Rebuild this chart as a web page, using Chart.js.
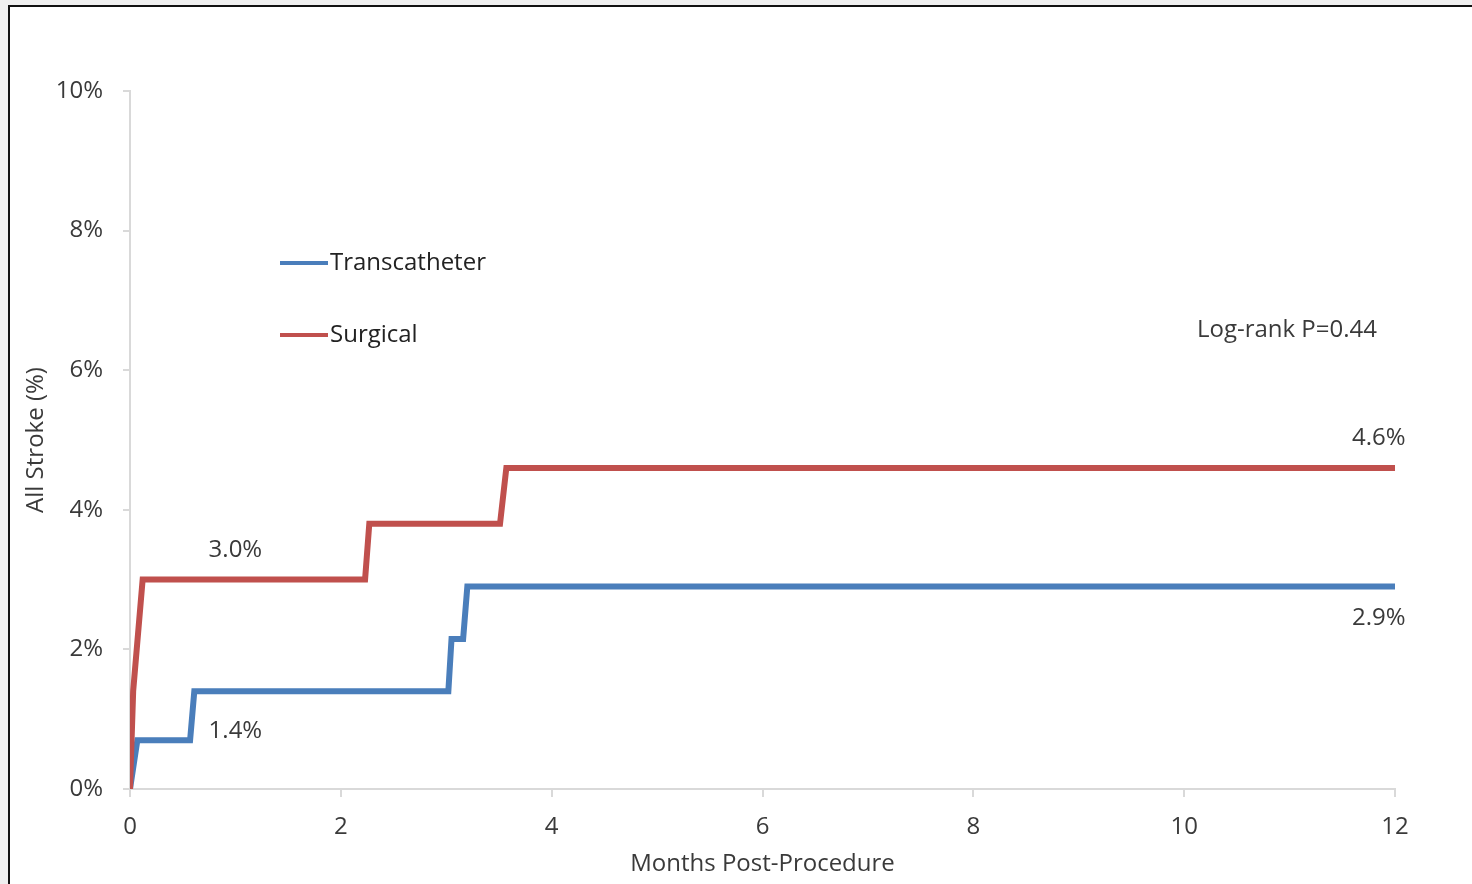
<!DOCTYPE html>
<html lang="en">
<head>
    <meta charset="UTF-8">
    <title>All Stroke</title>
    <script src="https://cdn.jsdelivr.net/npm/chart.js@4.4.1/dist/chart.umd.min.js"></script>
    <style>
        html, body {
            margin: 0;
            padding: 0;
            background: #efefef;
        }
        .frame {
            position: absolute;
            left: 8px;
            top: 5px;
            width: 1464px;
            height: 879px;
            background: #fff;
            border-left: 2px solid #111;
            border-top: 2px solid #111;
            box-sizing: border-box;
        }
        .chart-box {
            position: absolute;
            left: 0;
            top: 0;
            width: 1472px;
            height: 884px;
        }
    </style>
</head>
<body>
    <div class="frame"></div>
    <div class="chart-box">
        <canvas id="strokeChart" width="1472" height="884"></canvas>
    </div>

    <script>
        // Kaplan-Meier steps, months vs cumulative stroke (%)
        const tavrMonths = [0, 0.07, 0.57, 0.61, 3.02, 3.05, 3.16, 3.20, 12];
        const tavrStroke = [0, 0.7, 0.7, 1.4, 1.4, 2.15, 2.15, 2.9, 2.9];

        const savrMonths = [0, 0.03, 0.12, 2.23, 2.27, 3.51, 3.57, 12];
        const savrStroke = [0, 1.4, 3.0, 3.0, 3.8, 3.8, 4.6, 4.6];

        const seriesNames = ['Transcatheter', 'Surgical'];
        const monthTicks = [0, 2, 4, 6, 8, 10, 12];
        const pctTicks = [0, 2, 4, 6, 8, 10];
        const pValueText = 'Log-rank P=0.44';

        const blue = '#4a7ebb';
        const red = '#c0504d';
        const textColor = '#3a3a3a';
        const axisColor = '#d9d9d9';
        const fontFamily = '"Open Sans", Lato, sans-serif';
        const fontSize = 24;

        const toPoints = (xs, ys) => xs.map((x, i) => ({ x: x, y: ys[i] }));

        // value callouts: which point to read, where to put the text
        const callouts = [
            { ds: 1, idx: 2, atMonth: 1.0, dy: -29, align: 'center' },
            { ds: 0, idx: 3, atMonth: 1.0, dy: 40, align: 'center' },
            { ds: 1, idx: 7, atMonth: 12.1, dy: -30, align: 'right' },
            { ds: 0, idx: 8, atMonth: 12.1, dy: 32, align: 'right' }
        ];

        const overlayPlugin = {
            id: 'overlay',
            afterDatasetsDraw(chart) {
                const ctx = chart.ctx;
                const xs = chart.scales.x;
                const ys = chart.scales.y;
                const area = chart.chartArea;
                ctx.save();
                ctx.textBaseline = 'middle';

                // value labels
                ctx.font = fontSize + 'px ' + fontFamily;
                ctx.fillStyle = textColor;
                callouts.forEach(c => {
                    const v = chart.data.datasets[c.ds].data[c.idx].y;
                    ctx.textAlign = c.align;
                    ctx.fillText(v.toFixed(1) + '%', xs.getPixelForValue(c.atMonth), ys.getPixelForValue(v) + c.dy);
                });

                // log-rank note
                ctx.textAlign = 'right';
                ctx.fillText(pValueText, area.right - 18, area.top + 239);

                // legend, stacked top-left inside the plot
                ctx.textAlign = 'left';
                ctx.fillStyle = '#222';
                chart.data.datasets.forEach((ds, i) => {
                    const y = area.top + 172 + i * 72;
                    const x0 = area.left + 150;
                    ctx.strokeStyle = ds.borderColor;
                    ctx.lineWidth = 4;
                    ctx.beginPath();
                    ctx.moveTo(x0, y);
                    ctx.lineTo(x0 + 48, y);
                    ctx.stroke();
                    ctx.fillText(ds.label, x0 + 50, y);
                });
                ctx.restore();
            }
        };

        const ctx = document.getElementById('strokeChart').getContext('2d');
        const strokeChart = new Chart(ctx, {
            type: 'line',
            data: {
                datasets: [{
                    label: seriesNames[0],
                    data: toPoints(tavrMonths, tavrStroke),
                    borderColor: blue,
                    borderWidth: 6,
                    order: 1
                }, {
                    label: seriesNames[1],
                    data: toPoints(savrMonths, savrStroke),
                    borderColor: red,
                    borderWidth: 6,
                    order: 0
                }]
            },
            options: {
                responsive: false,
                animation: false,
                layout: {
                    padding: { top: 91, right: 77, bottom: 0, left: 0 }
                },
                elements: {
                    point: { radius: 0 },
                    line: { tension: 0, borderJoinStyle: 'miter', borderCapStyle: 'butt' }
                },
                plugins: {
                    legend: { display: false },
                    tooltip: { enabled: false }
                },
                scales: {
                    x: {
                        type: 'linear',
                        min: 0,
                        max: 12,
                        afterBuildTicks: scale => { scale.ticks = monthTicks.map(v => ({ value: v })); },
                        afterFit: scale => {
                            scale.height = 95;
                            scale.paddingLeft = 0;
                            scale.paddingRight = 0;
                        },
                        grid: {
                            drawOnChartArea: false,
                            drawTicks: true,
                            tickLength: 8,
                            tickColor: axisColor,
                            lineWidth: 2
                        },
                        border: { color: axisColor, width: 2 },
                        ticks: {
                            color: textColor,
                            font: { family: fontFamily, size: fontSize },
                            padding: 16,
                            maxRotation: 0
                        },
                        title: {
                            display: true,
                            text: 'Months Post-Procedure',
                            color: textColor,
                            font: { family: fontFamily, size: fontSize },
                            padding: { top: 0, bottom: 5 }
                        }
                    },
                    y: {
                        min: 0,
                        max: 10,
                        afterBuildTicks: scale => { scale.ticks = pctTicks.map(v => ({ value: v })); },
                        afterFit: scale => {
                            scale.width = 130;
                            scale.paddingTop = 0;
                            scale.paddingBottom = 0;
                        },
                        grid: {
                            drawOnChartArea: false,
                            drawTicks: true,
                            tickLength: 7,
                            tickColor: axisColor,
                            lineWidth: 2
                        },
                        border: { color: axisColor, width: 2 },
                        ticks: {
                            color: textColor,
                            font: { family: fontFamily, size: fontSize },
                            padding: 20,
                            callback: v => v + '%'
                        },
                        title: {
                            display: true,
                            text: 'All Stroke (%)',
                            color: textColor,
                            font: { family: fontFamily, size: fontSize },
                            padding: { top: 22, bottom: 0 }
                        }
                    }
                }
            },
            plugins: [overlayPlugin]
        });
    </script>
</body>
</html>
